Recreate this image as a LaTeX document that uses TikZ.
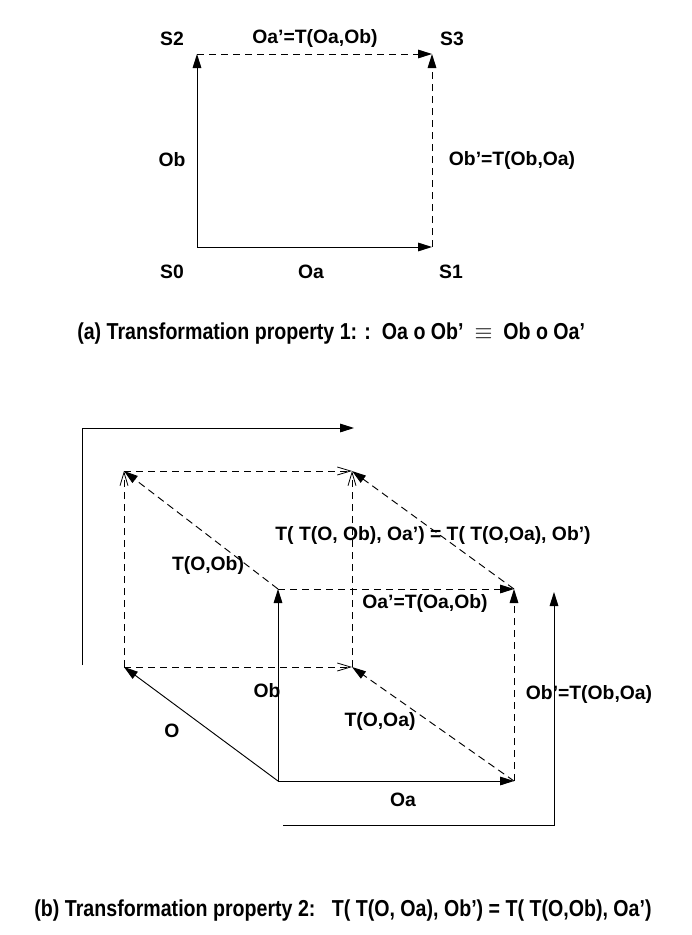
\documentclass[tikz,border=0pt]{standalone}
\usepackage{fontspec}
\setmainfont{Liberation Sans}
\newfontfamily\capfont[FakeStretch=0.85,Ligatures=TeX]{Liberation Sans}
\usetikzlibrary{arrows.meta}
\tikzset{
  lbl/.style={font=\fontsize{14.5}{16}\selectfont\bfseries, inner sep=0pt},
  captxt/.style={font=\capfont\fontsize{17.3}{20}\selectfont\bfseries, inner sep=0pt},
  ln/.style={line width=0.7pt},
  sol/.style={ln, -{Triangle[length=10.5pt,width=6.5pt]}},
  dsh/.style={ln, dash pattern=on 5.5pt off 3.5pt},
  fa/.style={-{Triangle[length=10.5pt,width=6.5pt]}},
  oa/.style={-{Straight Barb[length=10pt,width=6pt,line width=0.6pt]}},
}
\begin{document}
\begin{tikzpicture}[x=0.75pt,y=-0.75pt]
\useasboundingbox (0,0) rectangle (692,935);
% ---------- part (a) ----------
\coordinate (s0) at (197,247);
\coordinate (s1) at (432,247);
\coordinate (s2) at (197,54);
\coordinate (s3) at (432,54);
\draw[sol] (s0) -- (s2);
\draw[sol] (s0) -- (s1);
\draw[dsh,fa] (s2) -- (s3);
\draw[dsh,fa] (s1) -- (s3);
\node[lbl] (ls2) at (172,39) {S2};
\node[lbl] (ls3) at (452,39) {S3};
\node[lbl] (ls0) at (172,272) {S0};
\node[lbl] (ls1) at (451,272) {S1};
\node[lbl] (lsa) at (315,39) {Oa'=T(Oa,Ob)};
\node[lbl] (lsb) at (172,160) {Ob};
\node[lbl] (lsbp) at (512,160) {Ob'=T(Ob,Oa)};
\node[lbl] (lsoa) at (311,272) {Oa};
\node[captxt, anchor=west] (capa) at (77,334) {(a) Transformation property 1: :\ \ Oa o Ob'\ \ $\equiv$\ \ Ob o Oa'};
% ---------- part (b) ----------
\coordinate (o) at (278,781);
\coordinate (a) at (514,781);
\coordinate (b) at (278,589);
\coordinate (ab) at (514,589);
\coordinate (bo) at (124,667);
\coordinate (bb) at (124,471);
\coordinate (ba) at (352,667);
\coordinate (bab) at (352,471);
\draw[dsh,oa] (bo) -- (bb);
\draw[dsh,oa] (bo) -- (ba);
\draw[dsh,oa] (ba) -- (bab);
\draw[dsh,oa] (bb) -- (bab);
\draw[dsh,fa] (b) -- (bb);
\draw[dsh,fa] (a) -- (ba);
\draw[dsh,fa] (ab) -- (bab);
\draw[dsh,fa] (b) -- (ab);
\draw[dsh,fa] (a) -- (ab);
\draw[sol] (o) -- (bo);
\draw[sol] (o) -- (a);
\draw[sol] (o) -- (b);
% outer L arrows
\coordinate (l1s) at (82,665);
\coordinate (l1c) at (82,428);
\coordinate (l1e) at (354,428);
\draw[sol] (l1s) -- (l1c) -- (l1e);
\coordinate (l2s) at (283,825);
\coordinate (l2c) at (554,825);
\coordinate (l2e) at (554,592);
\draw[sol] (l2s) -- (l2c) -- (l2e);
% labels
\node[lbl] (lt) at (433,535) {T( T(O, Ob), Oa') = T( T(O,Oa), Ob')};
\node[lbl] (ltob) at (208,565) {T(O,Ob)};
\node[lbl] (loap) at (425,603) {Oa'=T(Oa,Ob)};
\node[lbl] (lobp) at (589,694) {Ob'=T(Ob,Oa)};
\node[lbl] (ltoa) at (380,721) {T(O,Oa)};
\node[lbl] (lo) at (172,731) {O};
\node[lbl] (lob) at (267,691) {Ob};
\node[lbl] (loa) at (403,800) {Oa};
\node[captxt] (capb) at (343,911) {(b) Transformation property 2:\ \ \ T( T(O, Oa), Ob') = T( T(O,Ob), Oa')};
\end{tikzpicture}
\end{document}
